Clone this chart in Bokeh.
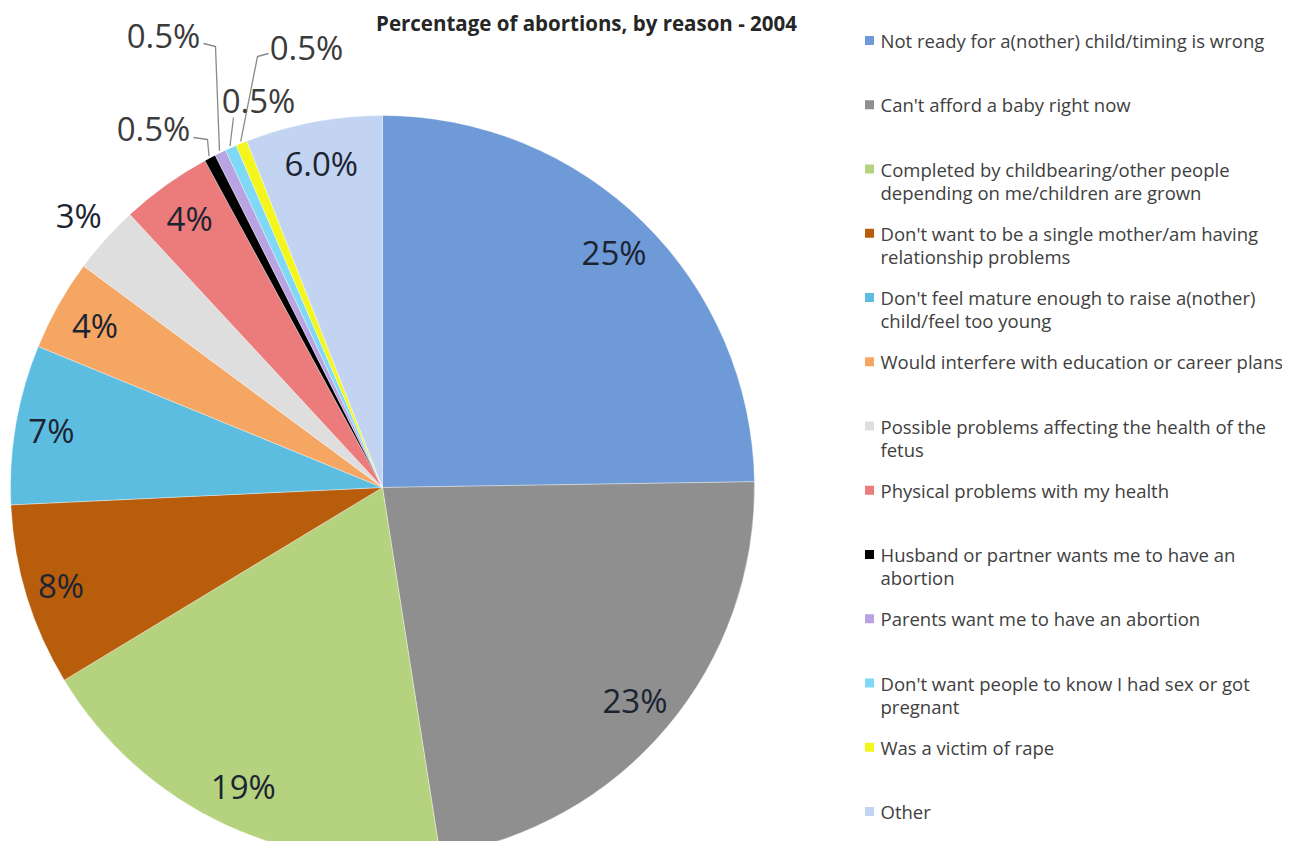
import math
from bokeh.plotting import figure
from bokeh.models import Range1d, ColumnDataSource
from bokeh.core.properties import value
from bokeh.embed import file_html
from bokeh.resources import INLINE

# ---------------- data ----------------
reasons = [
    "Not ready for a(nother) child/timing is wrong",
    "Can't afford a baby right now",
    "Completed by childbearing/other people\ndepending on me/children are grown",
    "Don't want to be a single mother/am having\nrelationship problems",
    "Don't feel mature enough to raise a(nother)\nchild/feel too young",
    "Would interfere with education or career plans",
    "Possible problems affecting the health of the\nfetus",
    "Physical problems with my health",
    "Husband or partner wants me to have an\nabortion",
    "Parents want me to have an abortion",
    "Don't want people to know I had sex or got\npregnant",
    "Was a victim of rape",
    "Other",
]
percents = [25, 23, 19, 8, 7, 4, 3, 4, 0.5, 0.5, 0.5, 0.5, 6]
pct_labels = ["25%", "23%", "19%", "8%", "7%", "4%", "3%", "4%",
              "0.5%", "0.5%", "0.5%", "0.5%", "6.0%"]
title_text = "Percentage of abortions, by reason - 2004"

# ---------------- styles / layout ----------------
colors = ["#6f9ad8", "#8f8f8f", "#b5d27e", "#b85d0c", "#5dbde0", "#f5a663",
          "#dedede", "#ec7b7b", "#000000", "#b9a3e3", "#7fd8f5", "#f5f51e",
          "#c2d4f2"]
W, H = 1282, 841
IMG_H = 857


def Y(yimg):
    return IMG_H - yimg


cx, cy, R = 382, Y(487), 372
label_r = [330, 330, 330, 336, 336, 330, 408, 331, None, None, None, None, 330]
# small-slice labels: (label center x, y in image px, leader path before slice edge)
small = {
    8: ((153, 128), [(193, 137), (207, 139)]),
    9: ((163, 35), [(203, 43), (215, 46)]),
    10: ((258, 100), [(233, 117)]),
    11: ((306, 47), [(268, 53), (257, 56)]),
}
font = "Open Sans"

p = figure(width=W, height=H, output_backend="svg", toolbar_location=None,
           x_range=Range1d(0, W), y_range=Range1d(IMG_H - H, IMG_H),
           min_border=0, x_axis_location=None, y_axis_location=None,
           background_fill_color="white", border_fill_color="white")
p.grid.visible = False
p.outline_line_color = None

total = sum(percents)
starts, ends, mids = [], [], []
c = 0.0
for v in percents:
    a0 = math.pi / 2 - 2 * math.pi * c / total
    c += v
    a1 = math.pi / 2 - 2 * math.pi * c / total
    starts.append(a0)
    ends.append(a1)
    mids.append((a0 + a1) / 2)

src = ColumnDataSource(dict(start=starts, end=ends, color=colors))
p.wedge(x=cx, y=cy, radius=R, start_angle="start", end_angle="end",
        direction="clock", fill_color="color", line_color="white",
        line_width=0.6, line_alpha=0.6, source=src)

# in-slice labels
lx, ly, lt = [], [], []
for i, r in enumerate(label_r):
    if r is None:
        continue
    lx.append(cx + r * math.cos(mids[i]))
    ly.append(cy + r * math.sin(mids[i]))
    lt.append(pct_labels[i])
p.text(x=lx, y=ly, text=lt, text_font=value(font), text_font_size="33px",
       text_color="#1d2431", text_align="center", text_baseline="middle")

# small labels + leader lines
sx, sy, st, mxs, mys = [], [], [], [], []
for i, ((px_, py_), path) in small.items():
    sx.append(px_)
    sy.append(Y(py_))
    st.append(pct_labels[i])
    ex = cx + (R + 2) * math.cos(mids[i])
    ey = cy + (R + 2) * math.sin(mids[i])
    mxs.append([q[0] for q in path] + [ex])
    mys.append([Y(q[1]) for q in path] + [ey])
p.multi_line(xs=mxs, ys=mys, line_color="#8a8a8a", line_width=1.3)
p.text(x=sx, y=sy, text=st, text_font=value(font), text_font_size="33px",
       text_color="#3b3b3b", text_align="center", text_baseline="middle")

# title
p.text(x=[586], y=[Y(22)], text=[title_text], text_font=value(font),
       text_font_size="20.5px", text_font_style="bold", text_color="#262626",
       text_align="center", text_baseline="middle")

# legend
leg_x0, leg_y0, leg_dy, line_dy = 869, 40, 64.25, 23
tx, ty, tt = [], [], []
mkx, mky = [], []
for i, name in enumerate(reasons):
    y0 = leg_y0 + i * leg_dy
    mkx.append(leg_x0)
    mky.append(Y(y0))
    for j, line in enumerate(name.split("\n")):
        tx.append(leg_x0 + 11)
        ty.append(Y(y0 + j * line_dy))
        tt.append(line)
p.scatter(x=mkx, y=mky, marker="square", size=9, fill_color=colors,
          line_color=None)
p.text(x=tx, y=ty, text=tt, text_font=value(font), text_font_size="18.5px",
       text_color="#404040", text_align="left", text_baseline="middle")

open("out.html", "w").write(file_html(p, INLINE))
